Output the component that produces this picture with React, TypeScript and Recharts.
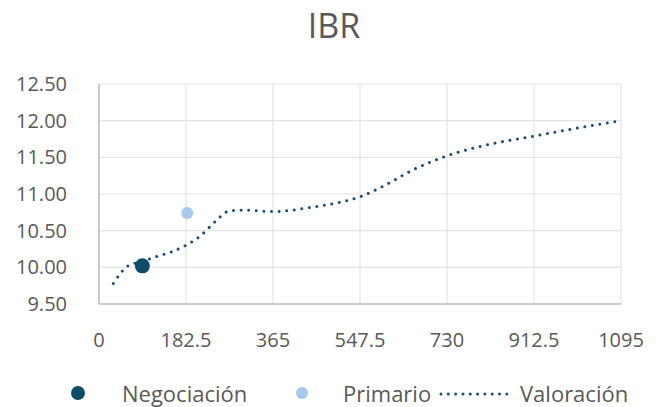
import React from "react";
import {
  ComposedChart,
  Line,
  Scatter,
  XAxis,
  YAxis,
  CartesianGrid,
  Legend,
} from "recharts";

// plazos en dias y tasas (%)
const negociacionDays = [91];
const negociacionRates = [10.02];

const primarioDays = [185];
const primarioRates = [10.74];

const valoracionDays = [
  30, 61, 91, 122, 152, 182, 213, 243, 274, 304, 365, 456, 500, 547, 600, 659,
  730, 821, 913, 1004, 1095,
];
const valoracionRates = [
  9.78, 10.02, 10.08, 10.15, 10.21, 10.3, 10.43, 10.62, 10.77, 10.78, 10.76,
  10.83, 10.88, 10.96, 11.12, 11.33, 11.52, 11.68, 11.79, 11.9, 12.0,
];

const xTicks = [0, 182.5, 365, 547.5, 730, 912.5, 1095];
const yTicks = [9.5, 10, 10.5, 11, 11.5, 12, 12.5];

const title = "IBR";

const negociacion = negociacionDays.map((d, i) => ({ day: d, rate: negociacionRates[i] }));
const primario = primarioDays.map((d, i) => ({ day: d, rate: primarioRates[i] }));
const valoracion = valoracionDays.map((d, i) => ({ day: d, rate: valoracionRates[i] }));

const FONT = "'Open Sans', sans-serif";
const TEXT = "#595959";
const DARK = "#0f4c6a";
const LIGHT = "#a7c8ec";
const LINE = "#1f4e79";

const renderLegend = () => {
  const label: React.CSSProperties = {
    position: "absolute",
    top: 0,
    fontSize: 22,
    lineHeight: "30px",
    color: TEXT,
    fontFamily: FONT,
    whiteSpace: "nowrap",
  };
  return (
    <div style={{ position: "relative", width: 662, height: 30 }}>
      <svg style={{ position: "absolute", left: 0, top: 0 }} width={662} height={30}>
        <circle cx={78} cy={15} r={7} fill={DARK} />
        <circle cx={302} cy={15} r={6} fill={LIGHT} />
        <line
          x1={441}
          x2={507}
          y1={16}
          y2={16}
          stroke={LINE}
          strokeWidth={3}
          strokeDasharray="0.01 7.3"
          strokeLinecap="round"
        />
      </svg>
      <span style={{ ...label, left: 122 }}>Negociación</span>
      <span style={{ ...label, left: 343 }}>Primario</span>
      <span style={{ ...label, left: 520 }}>Valoración</span>
    </div>
  );
};

const App = () => {
  return (
    <div style={{ position: "absolute", left: 0, top: 0, width: 662, height: 407, background: "#fff" }}>
      <div
        style={{
          position: "absolute",
          left: 0,
          top: 0,
          width: 662,
          textAlign: "center",
          fontFamily: FONT,
          fontSize: 34,
          lineHeight: "50px",
          color: TEXT,
          paddingLeft: 6,
          boxSizing: "border-box",
        }}
      >
        {title}
      </div>
      <ComposedChart
        width={662}
        height={407}
        margin={{ top: 84, right: 41, left: 0, bottom: 0 }}
      >
        <CartesianGrid stroke="#e4e4e4" strokeWidth={1.2} />
        <XAxis
          dataKey="day"
          type="number"
          domain={[0, 1095]}
          ticks={xTicks}
          allowDataOverflow
          tickLine={false}
          tickSize={0}
          tickMargin={29}
          height={103}
          axisLine={{ stroke: "#bfbfbf", strokeWidth: 1.5 }}
          tick={{ fill: TEXT, fontSize: 20, fontFamily: FONT }}
          interval={0}
        />
        <YAxis
          dataKey="rate"
          type="number"
          domain={[9.5, 12.5]}
          ticks={yTicks}
          allowDataOverflow
          width={99}
          tickLine={false}
          tickSize={0}
          tickMargin={32}
          axisLine={{ stroke: "#bfbfbf", strokeWidth: 1.5 }}
          tick={{ fill: TEXT, fontSize: 20, fontFamily: FONT }}
          tickFormatter={(v: number) => v.toFixed(2)}
          interval={0}
        />
        <Legend
          layout="horizontal"
          verticalAlign="middle"
          content={renderLegend}
          wrapperStyle={{ top: 378, left: 0, width: 662 }}
        />
        <Line
          data={valoracion}
          dataKey="rate"
          name="Valoración"
          type="monotone"
          stroke={LINE}
          strokeWidth={3}
          strokeDasharray="0.01 7.6"
          strokeLinecap="round"
          dot={false}
          activeDot={false}
          isAnimationActive={false}
        />
        <Scatter
          data={primario}
          dataKey="rate"
          name="Primario"
          fill={LIGHT}
          shape={(p: any) => <circle cx={p.cx} cy={p.cy} r={6} fill={LIGHT} />}
          isAnimationActive={false}
        />
        <Scatter
          data={negociacion}
          dataKey="rate"
          name="Negociación"
          fill={DARK}
          shape={(p: any) => <circle cx={p.cx} cy={p.cy} r={7.5} fill={DARK} />}
          isAnimationActive={false}
        />
      </ComposedChart>
    </div>
  );
};

export default App;
